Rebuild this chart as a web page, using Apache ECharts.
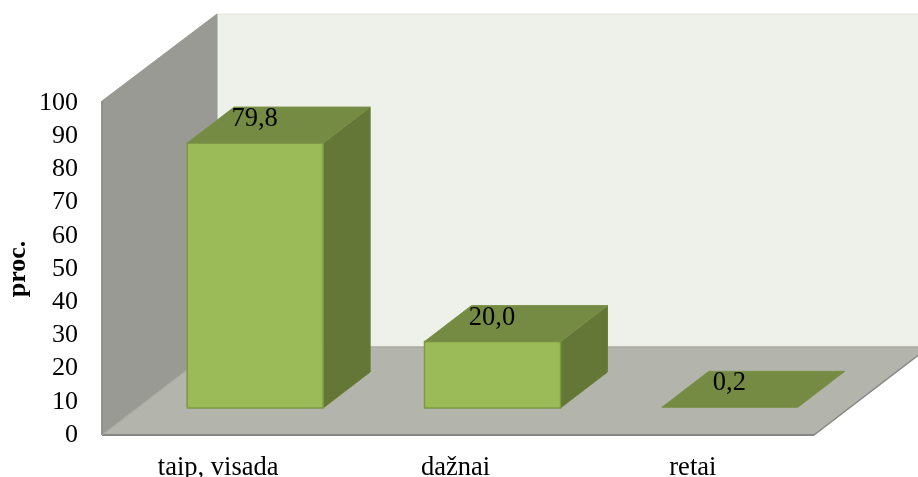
<!DOCTYPE html>
<html>
<head>
<meta charset="utf-8">
<style>html,body{margin:0;padding:0;background:#fff}#c{width:918px;height:477px}</style>
<script src="https://cdn.jsdelivr.net/npm/echarts@6/dist/echarts.min.js"></script>
</head>
<body>
<div id="c"></div>
<script>
const categories = ['taip, visada', 'dažnai', 'retai'];
const values = [79.8, 20.0, 0.2];
const yAxisName = 'proc.';
const font = '"Liberation Serif", "Times New Roman", serif';

const wallTopDepth = [115, -87];
const wallBaseDepth = [115, -88];
const barDepth = [47, -36];
const barShift = [34.5, -25];
const barWidth = 136;

function poly(points, fill, stroke, lineWidth) {
  return {
    type: 'polygon',
    shape: { points: points },
    style: { fill: fill, stroke: stroke || fill, lineWidth: lineWidth === undefined ? 1 : lineWidth }
  };
}
function off(p, d) { return [p[0] + d[0], p[1] + d[1]]; }

function renderWalls(params, api) {
  const band = api.size([1, 0])[0];
  const c0 = api.coord([0, 0]);
  const c100 = api.coord([0, 100]);
  const x0 = c0[0] - band / 2;
  const x1 = x0 + band * categories.length;
  const fb = [x0, c0[1] + 2], ft = [x0, c100[1]], fr = [x1, c0[1] + 2];
  const bb = off(fb, wallBaseDepth), bt = off(ft, wallTopDepth), br = off(fr, wallBaseDepth);
  const brt = [br[0], bt[1]];
  return {
    type: 'group',
    children: [
      poly([bt, brt, br, bb], '#eef1ea', '#e2e5de'),
      poly([ft, bt, bb, fb], '#989a93', '#989a93'),
      poly([fb, bb, br, fr], '#b3b5ad', '#b3b5ad'),
      { type: 'line', shape: { x1: ft[0], y1: ft[1], x2: fb[0], y2: fb[1] }, style: { stroke: '#868686', lineWidth: 1.5 } },
      { type: 'line', shape: { x1: fb[0], y1: fb[1], x2: fr[0], y2: fr[1] }, style: { stroke: '#868686', lineWidth: 2 } },
      { type: 'line', shape: { x1: fr[0], y1: fr[1], x2: br[0], y2: br[1] }, style: { stroke: '#868686', lineWidth: 1.5 } },
      { type: 'line', shape: { x1: bb[0], y1: bb[1], x2: br[0], y2: br[1] }, style: { stroke: '#a4a69f', lineWidth: 1 } },
      { type: 'line', shape: { x1: fb[0], y1: fb[1], x2: bb[0], y2: bb[1] }, style: { stroke: '#a7a9a2', lineWidth: 1 } }
    ]
  };
}

function renderBar(params, api) {
  const idx = api.value(0), val = api.value(1);
  const base = api.coord([idx, 0]), top = api.coord([idx, val]);
  const cx = base[0] + barShift[0];
  const xl = cx - barWidth / 2, xr = cx + barWidth / 2;
  const yb = base[1] + barShift[1], yt = top[1] + barShift[1];
  const fl = [xl, yt], fr = [xr, yt], bl = [xl, yb], br = [xr, yb];
  const children = [];
  const stroke = '#7a9a3f';
  if (yb - yt >= 2) {
    children.push(poly([fr, off(fr, barDepth), off(br, barDepth), br], '#647736', '#6c8039'));
    children.push(poly([fl, fr, br, bl], '#9bbb59', stroke, 1.5));
  }
  children.push(poly([fl, off(fl, barDepth), off(fr, barDepth), fr], '#758b43', '#7b9147'));
  children.push({
    type: 'text',
    style: {
      x: cx - 0.5, y: yt - 24,
      text: val.toFixed(1).replace('.', ','),
      fill: '#000', font: '26.5px ' + font,
      align: 'center', verticalAlign: 'middle'
    }
  });
  return { type: 'group', children: children };
}

const chart = echarts.init(document.getElementById('c'), null, { renderer: 'canvas' });
chart.setOption({
  animation: false,
  backgroundColor: '#fff',
  grid: { left: 102, right: 104, top: 101, bottom: 44, containLabel: false, outerBoundsMode: 'none' },
  xAxis: {
    type: 'category',
    data: categories,
    axisLine: { show: false },
    axisTick: { show: false },
    axisLabel: { color: '#000', fontFamily: font, fontSize: 26.5, margin: 22, interval: 0, padding: [0, 5, 0, 0] }
  },
  yAxis: {
    type: 'value',
    min: 0, max: 100, interval: 10,
    name: yAxisName,
    nameLocation: 'middle',
    nameGap: 71,
    nameMoveOverlap: false,
    nameRotate: 90,
    nameTextStyle: { color: '#000', fontFamily: font, fontSize: 26, fontWeight: 'bold', padding: [0, 4, 0, 0] },
    axisLine: { show: false },
    axisTick: { show: false },
    splitLine: { show: false },
    axisLabel: { color: '#000', fontFamily: font, fontSize: 26, margin: 24, verticalAlign: 'top', lineHeight: 4 }
  },
  series: [
    { type: 'custom', z: 1, silent: true, data: [[0, 0]], renderItem: renderWalls, encode: { x: 0, y: 1 } },
    { type: 'custom', z: 2, silent: true, data: values.map((v, i) => [i, v]), renderItem: renderBar, encode: { x: 0, y: 1 } }
  ]
});
</script>
</body>
</html>
